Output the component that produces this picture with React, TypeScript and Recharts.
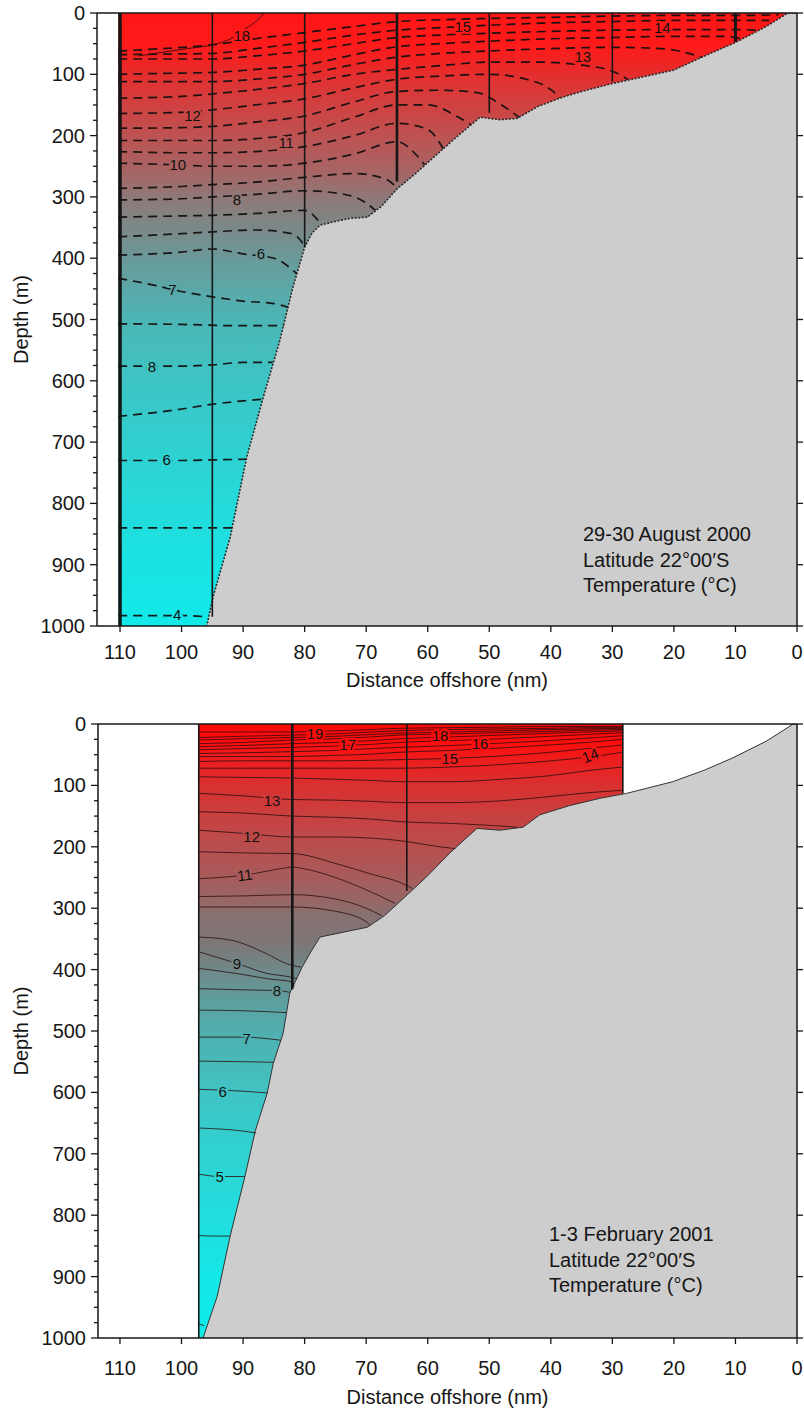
import React from 'react'
import { ComposedChart, XAxis, YAxis, Area, Line, Scatter } from 'recharts'

const FONT = '"Liberation Sans", Arial, Helvetica, sans-serif'
const INK = '#161616'

type Pt = [number, number] // [distance offshore (nm), depth (m)]

const distanceTicks = [0, 10, 20, 30, 40, 50, 60, 70, 80, 90, 100, 110]
const depthLabels = [0, 100, 200, 300, 400, 500, 600, 700, 800, 900, 1000]
const depthMinor = depthLabels.flatMap((d) => (d < 1000 ? [d, d + 25, d + 50, d + 75] : [d]))

// ---------- 29-30 August 2000 ----------
const augWater: [number, number] = [110.3, 0]
const augBottom: Pt[] = [
  [0, 0], [1.5, 0], [5, 22], [10, 48], [15, 70], [20, 93], [25, 104], [30, 115], [35, 128], [38, 137],
  [42, 152], [45.5, 172], [48.3, 174], [51.5, 170], [55.3, 202], [59, 235], [62, 262], [65, 287],
  [67.5, 315], [69.8, 333], [72.6, 335], [75, 340], [77.5, 346], [78.8, 359], [80, 382], [81.9, 447],
  [84, 533], [86.7, 626], [89.4, 724], [92.1, 855], [94.9, 953], [95.9, 1000],
]
const augStations = [110, 95, 80, 65, 50, 30, 10]
const augStationDepths = [1000, 985, 382, 275, 163, 112, 47]
const augIsotherms: Pt[][] = [
  [[110.3, 62], [103, 58], [95, 52], [88, 42], [80, 32], [72, 22], [65, 14], [58, 11], [50, 9], [40, 7], [30, 5], [20, 4], [10, 4], [3, 3]],
  [[110.3, 68], [102, 67], [95, 66], [88, 58], [80, 48], [72, 36], [65, 28], [58, 24], [50, 20], [40, 16], [30, 14], [20, 12], [10, 12], [4.5, 12]],
  [[110.3, 75], [102, 75], [95, 75], [88, 70], [80, 62], [72, 50], [65, 40], [58, 36], [50, 33], [40, 30], [30, 28], [20, 27], [10, 27], [6.5, 28]],
  [[110.3, 100], [100, 98], [95, 97], [88, 92], [80, 85], [72, 68], [65, 55], [58, 50], [50, 46], [40, 42], [30, 40], [20, 38], [12, 38], [9, 42]],
  [[110.3, 112], [100, 112], [95, 112], [88, 108], [80, 100], [72, 84], [65, 72], [58, 66], [50, 62], [40, 58], [30, 56], [22, 58], [15.5, 72]],
  [[110.3, 139], [100, 136], [95, 132], [88, 125], [80, 115], [72, 100], [65, 92], [58, 86], [50, 80], [42, 80], [35, 85], [30, 95], [27.5, 108]],
  [[110.3, 164], [100, 162], [95, 158], [88, 150], [80, 140], [72, 122], [65, 108], [58, 103], [50, 100], [44, 108], [40, 125], [38.5, 138]],
  [[110.3, 188], [100, 187], [95, 185], [88, 178], [80, 168], [72, 145], [65, 128], [58, 126], [52, 130], [48, 150], [45.2, 170]],
  [[110.3, 208], [100, 208], [95, 208], [88, 205], [80, 195], [72, 170], [65, 150], [60, 150], [55, 170], [53, 182]],
  [[110.3, 226], [100, 228], [95, 228], [88, 226], [80, 218], [72, 200], [65, 180], [60, 190], [57.5, 221]],
  [[110.3, 245], [100, 248], [95, 250], [88, 250], [80, 245], [72, 230], [65, 210], [62, 230], [60.5, 248]],
  [[110.3, 286], [100, 283], [95, 280], [88, 276], [80, 268], [72, 262], [67, 270], [65, 285]],
  [[110.3, 305], [100, 303], [95, 300], [88, 296], [80, 290], [74, 295], [70, 310], [68.5, 322]],
  [[110.3, 333], [100, 331], [95, 330], [88, 327], [80, 322], [77.3, 345]],
  [[110.3, 365], [100, 360], [95, 357], [88, 354], [82, 360], [80, 380]],
  [[110.3, 395], [100, 390], [95, 385], [90, 393], [85, 400], [81.3, 425]],
  [[110.3, 433], [104, 445], [101.5, 451], [95, 463], [90, 470], [85, 474], [82.7, 480]],
  [[110.3, 507], [100, 508], [92, 510], [83.4, 510]],
  [[110.3, 576], [100, 576], [95, 574], [90, 570], [85.2, 570]],
  [[110.3, 658], [101.3, 648], [94.8, 638], [86.8, 630]],
  [[110.3, 730], [100, 730], [95, 729], [89.5, 728]],
  [[110.3, 840], [100, 840], [95, 840], [91.7, 840]],
  [[110.3, 983], [100, 983], [96, 985]],
]
const augThin: Pt[] = [[107, 70], [103, 64], [99, 58], [95, 52], [92, 42], [89.5, 25], [87.5, 10], [86.6, 0]]
const augLabels = [
  { t: '18', nm: 90.2, depth: 36 }, { t: '15', nm: 54.3, depth: 22 }, { t: '14', nm: 21.9, depth: 23 },
  { t: '13', nm: 34.8, depth: 71 }, { t: '12', nm: 98.2, depth: 168 }, { t: '11', nm: 83, depth: 212 },
  { t: '10', nm: 100.6, depth: 247 }, { t: '8', nm: 91, depth: 304 }, { t: '6', nm: 87.1, depth: 393 },
  { t: '7', nm: 101.5, depth: 451 }, { t: '8', nm: 104.8, depth: 576 }, { t: '6', nm: 102.4, depth: 728 },
  { t: '4', nm: 100.7, depth: 981 },
]
const augNotes = ['29-30 August 2000', 'Latitude 22°00′S', 'Temperature (°C)']

// ---------- 1-3 February 2001 ----------
const febWater: [number, number] = [97.2, 28.3]
const febBottom: Pt[] = [
  [0, 0], [0.6, 0], [5, 28], [10.4, 55], [15, 75], [20.2, 94], [27.7, 113], [32, 121], [37, 133],
  [41.8, 148], [44.5, 168], [48.3, 173], [52, 170], [56.4, 210], [60.2, 249], [64.6, 290], [67, 312],
  [69.8, 331], [73.7, 339], [77.5, 347], [79.1, 373], [80.4, 396], [82.4, 438], [83.5, 504], [85.1, 553],
  [86.1, 602], [88, 662], [89.7, 737], [92.1, 834], [94.2, 932], [96.5, 1000],
]
const febStations = [97.2, 82, 63.4, 28.3]
const febStationDepths = [1000, 432, 272, 113]
const febCols = [97.2, 90, 82, 75, 69, 64.5, 56, 48, 40, 34, 28.3]
const febUpper: number[][] = [
  [13, 13, 13, 11, 9, 7, 6, 5, 4, 4, 4],
  [22, 20, 18, 16, 13, 11, 9, 8, 7, 6, 6],
  [26, 24, 22, 20, 17, 15, 13, 11, 9, 8, 7],
  [32, 30, 26, 24, 21, 18, 16, 14, 12, 10, 9],
  [37, 35, 32, 30, 27, 24, 21, 18, 15, 13, 11],
  [42, 40, 38, 36, 33, 30, 27, 24, 20, 17, 14],
  [48, 47, 45, 43, 40, 38, 35, 31, 27, 23, 19],
  [53, 53, 53, 51, 49, 46, 43, 39, 34, 30, 25],
  [61, 60, 60, 60, 59, 58, 56, 52, 46, 40, 34],
  [72, 72, 72, 72, 72, 72, 70, 66, 60, 54, 46],
  [86, 87, 88, 90, 92, 94, 94, 90, 84, 76, 70],
  [113, 117, 123, 124, 126, 128, 128, 125, 118, 112, 108],
]
const febLower: Pt[][] = [
  [[97.2, 143], [90, 145], [82, 150], [75, 152], [69, 155], [64.5, 159], [56, 162], [50, 165], [45.5, 168]],
  [[97.2, 173], [90, 178], [82, 184], [75, 184], [69, 186], [64.5, 190], [58, 200], [55.5, 203]],
  [[97.2, 208], [90, 210], [82, 211], [75, 227], [69, 245], [64.5, 258], [62.5, 268]],
  [[97.2, 252], [89.7, 246], [83.5, 235], [82, 233], [80, 236], [75, 250], [70, 270], [65.3, 292]],
  [[97.2, 281], [90, 280], [82, 278], [75, 285], [70, 300], [67.5, 312]],
  [[97.2, 298], [90, 298], [82, 298], [75, 305], [70, 322], [69.3, 328]],
  [[97.2, 347], [92, 352], [86.2, 374], [83, 390], [80.6, 396]],
  [[97.2, 371], [91, 390], [86.2, 406], [82.4, 412], [81.2, 415]],
  [[97.2, 398], [90, 408], [86, 415], [82, 420], [81.7, 428]],
  [[97.2, 431], [90, 433], [84.5, 434], [82.4, 437]],
  [[97.2, 466], [90, 467], [83, 470]],
  [[97.2, 510], [90, 510], [83.9, 515]],
  [[97.2, 549], [90, 550], [85, 551]],
  [[97.2, 595], [90, 598], [86, 601]],
  [[97.2, 658], [90, 663], [87.9, 666]],
  [[97.2, 733], [93.8, 737], [89.7, 737]],
  [[97.2, 833], [95, 834], [92.1, 834]],
  [[97.2, 977], [96.3, 980]],
]
const febLabels = [
  { t: '19', nm: 78.3, depth: 15 }, { t: '17', nm: 73, depth: 34 }, { t: '18', nm: 58, depth: 18 },
  { t: '16', nm: 51.5, depth: 31 }, { t: '15', nm: 56.4, depth: 56 }, { t: '14', nm: 33.6, depth: 51 },
  { t: '13', nm: 85.3, depth: 124 }, { t: '12', nm: 88.6, depth: 184 }, { t: '11', nm: 89.7, depth: 246 },
  { t: '9', nm: 91, depth: 390 }, { t: '8', nm: 84.5, depth: 434 }, { t: '7', nm: 89.4, depth: 512 },
  { t: '6', nm: 93.3, depth: 598 }, { t: '5', nm: 93.8, depth: 737 },
]
const febNotes = ['1-3 February 2001', 'Latitude 22°00′S', 'Temperature (°C)']

const rows = (pts: Pt[]) => pts.map(([nm, depth]) => ({ nm, depth }))
const febIsotherms: Pt[][] = [
  ...febUpper.map((ds) => ds.map((d, i) => [febCols[i], d] as Pt)),
  ...febLower,
]

const axisStyle = { stroke: INK, strokeWidth: 1.5 }
const labelAngle: Record<string, number> = { '14': -22, '11': -8 }

// colour of the fill at a given depth, so a label can mask the line under it
function fillAt(stops: [number, string][], depth: number) {
  const f = Math.min(1, Math.max(0, depth / 1000))
  let i = 0
  while (i < stops.length - 2 && stops[i + 1][0] < f) i++
  const [o0, c0] = stops[i]
  const [o1, c1] = stops[i + 1]
  const k = o1 === o0 ? 0 : Math.min(1, Math.max(0, (f - o0) / (o1 - o0)))
  const hex = (c: string, j: number) => parseInt(c.slice(1 + j * 2, 3 + j * 2), 16)
  const ch = [0, 1, 2].map((j) => Math.round(hex(c0, j) + (hex(c1, j) - hex(c0, j)) * k))
  return `rgb(${ch.join(',')})`
}

interface PanelProps {
  id: string
  height: number
  marginTop: number
  left: number
  xMax: number
  bottomAxisH: number
  tickOff: number
  titleOff: number
  stops: [number, string][]
  water: [number, number]
  bottom: Pt[]
  isotherms: Pt[][]
  thin?: Pt[]
  dashed: boolean
  stations: number[]
  stationDepths: number[]
  stationWidths: number[]
  labels: { t: string; nm: number; depth: number }[]
  bottomStroke: { stroke: string; strokeWidth: number; strokeDasharray?: string }
}

function Panel(p: PanelProps) {
  const water = [{ nm: p.water[0], depth: 0 }, { nm: p.water[1], depth: 0 }]
  const txt = { fontFamily: FONT, fontSize: 20, fill: INK }
  return (
    <ComposedChart width={804} height={p.height} margin={{ top: p.marginTop, right: 0, bottom: 0, left: 0 }}>
      <defs>
        <linearGradient id={p.id} x1="0" y1="0" x2="0" y2="1">
          {p.stops.map(([o, c]) => (
            <stop key={o} offset={o} stopColor={c} />
          ))}
        </linearGradient>
      </defs>
      <XAxis
        type="number"
        dataKey="nm"
        domain={[0, p.xMax]}
        reversed
        allowDataOverflow
        ticks={distanceTicks}
        interval={0}
        tickSize={0}
        tickMargin={0}
        tickLine={false}
        height={p.bottomAxisH}
        axisLine={axisStyle}
        tick={(t: any) => (
          <g>
            <line x1={t.x} x2={t.x} y1={t.y} y2={t.y + 6} stroke={INK} strokeWidth={1.3} />
            <text x={t.x} y={t.y + p.tickOff} textAnchor="middle" {...txt}>
              {t.payload.value}
            </text>
          </g>
        )}
        label={(l: any) => (
          <text x={l.viewBox.x + l.viewBox.width / 2} y={l.viewBox.y + p.titleOff} textAnchor="middle" {...txt}>
            Distance offshore (nm)
          </text>
        )}
      />
      <XAxis
        xAxisId="top"
        orientation="top"
        type="number"
        domain={[0, p.xMax]}
        reversed
        allowDataOverflow
        ticks={distanceTicks}
        interval={0}
        tickSize={0}
        tickMargin={0}
        tickLine={false}
        height={8}
        axisLine={axisStyle}
        tick={(t: any) => <line x1={t.x} x2={t.x} y1={t.y} y2={t.y - 6} stroke={INK} strokeWidth={1.3} />}
      />
      <YAxis
        type="number"
        domain={[0, 1000]}
        reversed
        allowDataOverflow
        ticks={depthMinor}
        interval={0}
        tickSize={0}
        tickMargin={0}
        tickLine={false}
        width={p.left}
        axisLine={axisStyle}
        tick={(t: any) => {
          const v = t.payload.value
          const major = v % 100 === 0
          return (
            <g>
              <line x1={t.x} x2={t.x - (major ? 7 : 4)} y1={t.y} y2={t.y} stroke={INK} strokeWidth={1.3} />
              {major && (
                <text x={t.x - 12} y={t.y + 7} textAnchor="end" {...txt}>
                  {v}
                </text>
              )}
            </g>
          )
        }}
        label={(l: any) => {
          const cx = 21
          const cy = l.viewBox.y + l.viewBox.height / 2
          return (
            <text x={cx} y={cy} transform={`rotate(-90 ${cx} ${cy})`} textAnchor="middle" dominantBaseline="central" {...txt}>
              Depth (m)
            </text>
          )
        }}
      />
      <YAxis
        yAxisId="right"
        orientation="right"
        type="number"
        domain={[0, 1000]}
        reversed
        allowDataOverflow
        ticks={depthLabels}
        interval={0}
        tickSize={0}
        tickMargin={0}
        tickLine={false}
        width={7}
        axisLine={axisStyle}
        tick={(t: any) => <line x1={t.x} x2={t.x + 6} y1={t.y} y2={t.y} stroke={INK} strokeWidth={1.3} />}
      />

      <Area data={water} dataKey="depth" baseValue={1000} fill={`url(#${p.id})`} fillOpacity={1} stroke="none" isAnimationActive={false} />
      <Area
        data={rows(p.bottom)}
        dataKey="depth"
        baseValue={1000}
        type="linear"
        fill="#cdcdcd"
        fillOpacity={1}
        {...p.bottomStroke}
        isAnimationActive={false}
      />

      {p.isotherms.map((pts, i) => (
        <Line
          key={`iso-${i}`}
          data={rows(pts)}
          dataKey="depth"
          type="monotone"
          stroke={p.dashed ? '#141010' : '#2a0e0e'}
          strokeOpacity={p.dashed ? 0.95 : 0.8}
          strokeWidth={p.dashed ? 1.7 : 1}
          strokeDasharray={p.dashed ? '9 6' : undefined}
          dot={false}
          activeDot={false}
          isAnimationActive={false}
        />
      ))}
      {p.thin && (
        <Line data={rows(p.thin)} dataKey="depth" type="monotone" stroke="#3a0a0a" strokeWidth={0.9} dot={false} activeDot={false} isAnimationActive={false} />
      )}
      {p.stations.map((s, i) => (
        <Line
          key={`st-${i}`}
          data={[{ nm: s, depth: 0 }, { nm: s, depth: p.stationDepths[i] }]}
          dataKey="depth"
          type="linear"
          stroke={INK}
          strokeWidth={p.stationWidths[i]}
          dot={false}
          activeDot={false}
          isAnimationActive={false}
        />
      ))}
      <Scatter
        data={p.labels}
        dataKey="depth"
        isAnimationActive={false}
        shape={(s: any) => {
          const a = p.id === 'febFill' ? labelAngle[s.payload.t] : undefined
          return (
            <text
              x={s.cx}
              y={s.cy}
              textAnchor="middle"
              dominantBaseline="central"
              transform={a ? `rotate(${a} ${s.cx} ${s.cy})` : undefined}
              fontFamily={FONT}
              fontSize={15}
              fill="#111"
              stroke={fillAt(p.stops, s.payload.depth)}
              strokeWidth={4}
              paintOrder="stroke"
            >
              {s.payload.t}
            </text>
          )
        }}
      />
    </ComposedChart>
  )
}

function Notes({ lines, left, top }: { lines: string[]; left: number; top: number }) {
  return (
    <div style={{ position: 'absolute', left, top, fontFamily: FONT, fontSize: 20, lineHeight: '25.5px', color: INK, whiteSpace: 'nowrap' }}>
      {lines.map((l) => (
        <div key={l}>{l}</div>
      ))}
    </div>
  )
}

const augStops: [number, string][] = [
  [0, '#ff1616'], [0.05, '#ff1a1a'], [0.08, '#f02424'], [0.11, '#e03232'], [0.16, '#cd4444'],
  [0.21, '#ba5555'], [0.26, '#a66565'], [0.3, '#907878'], [0.35, '#7c8888'], [0.4, '#6b9999'],
  [0.45, '#5ba8a8'], [0.5, '#4db5b5'], [0.6, '#3dc4c4'], [0.7, '#31cfcf'], [0.8, '#25dada'],
  [0.9, '#1ae3e3'], [1, '#12e9e9'],
]
const febStops: [number, string][] = [
  [0, '#ff0808'], [0.03, '#ff0d0d'], [0.06, '#ec1e1e'], [0.1, '#da3030'], [0.15, '#c94040'],
  [0.2, '#b84e4e'], [0.25, '#a85b5b'], [0.29, '#966767'], [0.31, '#867070'], [0.36, '#7c7777'],
  [0.4, '#708888'], [0.45, '#5e9e9e'], [0.5, '#51afaf'], [0.6, '#40c3c3'], [0.7, '#30d2d2'],
  [0.8, '#22dede'], [0.9, '#16e7e7'], [1, '#0eecec'],
]

export default function App() {
  return (
    <div style={{ position: 'absolute', left: 0, top: 0, width: 804, height: 1411, background: '#fff', overflow: 'hidden' }}>
      <div style={{ position: 'absolute', left: 0, top: 0 }}>
        <Panel
          id="augFill"
          height={700}
          marginTop={5}
          left={97}
          xMax={113.74}
          bottomAxisH={74}
          tickOff={33}
          titleOff={61}
          stops={augStops}
          water={augWater}
          bottom={augBottom}
          isotherms={augIsotherms}
          thin={augThin}
          dashed
          stations={augStations}
          stationDepths={augStationDepths}
          stationWidths={[3.5, 1.6, 1.6, 2.6, 1.6, 1.6, 3]}
          labels={augLabels}
          bottomStroke={{ stroke: '#2a2a2a', strokeWidth: 1.6, strokeDasharray: '2 1.5' }}
        />
      </div>
      <div style={{ position: 'absolute', left: 0, top: 700 }}>
        <Panel
          id="febFill"
          height={711}
          marginTop={16}
          left={98}
          xMax={113.57}
          bottomAxisH={73}
          tickOff={37}
          titleOff={66}
          stops={febStops}
          water={febWater}
          bottom={febBottom}
          isotherms={febIsotherms}
          dashed={false}
          stations={febStations}
          stationDepths={febStationDepths}
          stationWidths={[1.6, 2.6, 1.6, 1.6]}
          labels={febLabels}
          bottomStroke={{ stroke: '#333', strokeWidth: 1 }}
        />
      </div>
      <Notes lines={augNotes} left={583} top={522} />
      <Notes lines={febNotes} left={549} top={1222} />
    </div>
  )
}
